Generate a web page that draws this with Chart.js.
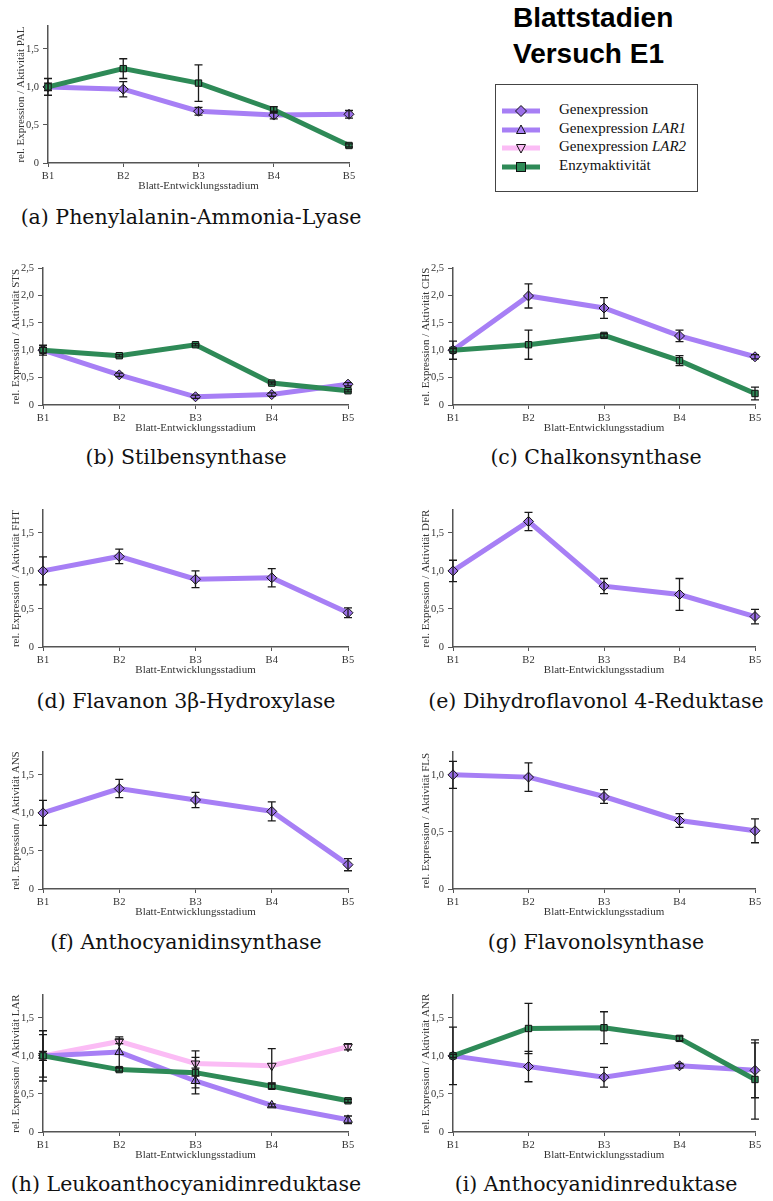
<!DOCTYPE html>
<html lang="de">
<head>
<meta charset="utf-8">
<script src="https://cdn.jsdelivr.net/npm/chart.js@4.4.1/dist/chart.umd.min.js"></script>
<style>
  body { margin: 0; background: #fff; width: 773px; height: 1201px; position: relative; overflow: hidden; }
  canvas { position: absolute; }
  .cap { position: absolute; width: 400px; text-align: center; font-family: "DejaVu Serif", serif; font-size: 20.5px; line-height: 24px; color: #111; white-space: nowrap; }
  #title { position: absolute; left: 513px; top: 0; font-family: "Liberation Sans", sans-serif; font-weight: bold; font-size: 28px; line-height: 36px; color: #000; }
  #legend { position: absolute; left: 495px; top: 84px; width: 201px; height: 106px; border: 1.5px solid #444; }
  #legend .row { position: absolute; left: 6px; height: 18px; display: flex; align-items: center; }
  #legend span { position: absolute; left: 57px; font-family: "Liberation Serif", serif; font-size: 15px; color: #111; white-space: nowrap; top: -1px; }
  #legend i { font-style: italic; }
</style>
</head>
<body>
<div id="title">Blattstadien<br>Versuch E1</div>
<div id="legend">
  <div class="row" style="top:17px"><svg width="40" height="18"><line x1="0" y1="9" x2="38" y2="9" stroke="#a77ff5" stroke-width="5"/><polygon points="19,3.5 24.5,9 19,14.5 13.5,9" fill="#9b6fe8" stroke="#111" stroke-width="1"/></svg><span>Genexpression</span></div>
  <div class="row" style="top:36px"><svg width="40" height="18"><line x1="0" y1="9" x2="38" y2="9" stroke="#a77ff5" stroke-width="5"/><polygon points="19,4 23.5,12.5 14.5,12.5" fill="#a77ff5" stroke="#111" stroke-width="1"/></svg><span>Genexpression <i>LAR1</i></span></div>
  <div class="row" style="top:54px"><svg width="40" height="18"><line x1="0" y1="9" x2="38" y2="9" stroke="#fbbcf5" stroke-width="5"/><polygon points="14.5,5.5 23.5,5.5 19,14" fill="#fbbcf5" stroke="#111" stroke-width="1"/></svg><span>Genexpression <i>LAR2</i></span></div>
  <div class="row" style="top:73px"><svg width="40" height="18"><line x1="0" y1="9" x2="38" y2="9" stroke="#2e8a57" stroke-width="5"/><rect x="14.5" y="4.5" width="9" height="9" fill="#2e8b57" stroke="#111" stroke-width="1"/></svg><span>Enzymaktivität</span></div>
</div>

<canvas id="pal" width="368" height="181" style="left:5px;top:14px"></canvas>
<canvas id="sts" width="372" height="181" style="left:0;top:256px"></canvas>
<canvas id="chs" width="363" height="181" style="left:410px;top:256px"></canvas>
<canvas id="fht" width="372" height="181" style="left:0;top:498px"></canvas>
<canvas id="dfr" width="363" height="181" style="left:410px;top:498px"></canvas>
<canvas id="ans" width="372" height="181" style="left:0;top:740px"></canvas>
<canvas id="fls" width="363" height="181" style="left:410px;top:740px"></canvas>
<canvas id="lar" width="372" height="181" style="left:0;top:983px"></canvas>
<canvas id="anr" width="363" height="181" style="left:410px;top:983px"></canvas>

<div class="cap" style="left:-9px;top:205px">(a) Phenylalanin-Ammonia-Lyase</div>
<div class="cap" style="left:-14px;top:445px">(b) Stilbensynthase</div>
<div class="cap" style="left:396px;top:445px">(c) Chalkonsynthase</div>
<div class="cap" style="left:-14px;top:689px">(d) Flavanon 3β-Hydroxylase</div>
<div class="cap" style="left:396px;top:689px">(e) Dihydroflavonol 4-Reduktase</div>
<div class="cap" style="left:-14px;top:930px">(f) Anthocyanidinsynthase</div>
<div class="cap" style="left:396px;top:930px">(g) Flavonolsynthase</div>
<div class="cap" style="left:-14px;top:1172px">(h) Leukoanthocyanidinreduktase</div>
<div class="cap" style="left:396px;top:1172px">(i) Anthocyanidinreduktase</div>

<script>
const stages = ["B1", "B2", "B3", "B4", "B5"];

const ticksLow = [0, 0.5, 1.0, 1.5];
const ticksHigh = [0, 0.5, 1.0, 1.5, 2.0, 2.5];
const ticksFls = [0, 0.5, 1.0];

// PAL
const palGen = [1.00, 0.97, 0.68, 0.63, 0.64];
const palGenErr = [0.11, 0.10, 0.05, 0.05, 0.05];
const palEnz = [1.00, 1.24, 1.05, 0.70, 0.23];
const palEnzErr = [0.05, 0.13, 0.24, 0.04, 0.02];
// STS
const stsGen = [1.00, 0.55, 0.15, 0.19, 0.38];
const stsGenErr = [0.09, 0.03, 0.03, 0.03, 0.03];
const stsEnz = [1.00, 0.90, 1.10, 0.40, 0.26];
const stsEnzErr = [0.05, 0.02, 0.02, 0.02, 0.02];
// CHS
const chsGen = [1.00, 1.99, 1.77, 1.26, 0.88];
const chsGenErr = [0.03, 0.22, 0.19, 0.105, 0.04];
const chsEnz = [1.00, 1.10, 1.27, 0.81, 0.21];
const chsEnzErr = [0.165, 0.265, 0.03, 0.09, 0.115];
// FHT
const fhtGen = [1.00, 1.19, 0.89, 0.91, 0.45];
const fhtGenErr = [0.185, 0.095, 0.11, 0.12, 0.065];
// DFR
const dfrGen = [1.00, 1.65, 0.80, 0.69, 0.40];
const dfrGenErr = [0.14, 0.12, 0.10, 0.21, 0.095];
// ANS
const ansGen = [1.00, 1.32, 1.17, 1.02, 0.32];
const ansGenErr = [0.165, 0.12, 0.10, 0.125, 0.08];
// FLS
const flsGen = [1.00, 0.98, 0.81, 0.60, 0.51];
const flsGenErr = [0.118, 0.125, 0.06, 0.061, 0.105];
// LAR
const lar1Gen = [1.00, 1.05, 0.67, 0.35, 0.16];
const lar1GenErr = [0.33, 0.20, 0.17, 0.02, 0.05];
const lar2Gen = [1.00, 1.19, 0.90, 0.87, 1.12];
const lar2GenErr = [0.28, 0.03, 0.165, 0.225, 0.04];
const larEnz = [1.00, 0.82, 0.78, 0.60, 0.41];
const larEnzErr = [0.06, 0.02, 0.20, 0.03, 0.02];
// ANR
const anrGen = [1.00, 0.86, 0.72, 0.87, 0.81];
const anrGenErr = [0.378, 0.20, 0.13, 0.03, 0.36];
const anrEnz = [1.00, 1.36, 1.37, 1.23, 0.69];
const anrEnzErr = [0.02, 0.33, 0.21, 0.03, 0.52];

const PURPLE = "#a77ff5";
const PURPLE_FILL = "#9b6fe8";
const PINK = "#fbbcf5";
const GREEN = "#2e8a57";
const GREEN_FILL = "#2e8b57";

// vertical error bars with caps, drawn via the chart scales
const errorBars = {
  id: "errorBars",
  afterDatasetsDraw(chart) {
    const { ctx, scales: { x, y } } = chart;
    ctx.save();
    ctx.strokeStyle = "#1a1a1a";
    ctx.lineWidth = 1.3;
    chart.data.datasets.forEach((ds) => {
      if (!ds.errors) return;
      ds.data.forEach((v, i) => {
        const e = ds.errors[i];
        const px = x.getPixelForValue(i);
        const top = y.getPixelForValue(v + e);
        const bot = y.getPixelForValue(v - e);
        ctx.beginPath();
        ctx.moveTo(px, top);
        ctx.lineTo(px, bot);
        ctx.moveTo(px - 4, top);
        ctx.lineTo(px + 4, top);
        ctx.moveTo(px - 4, bot);
        ctx.lineTo(px + 4, bot);
        ctx.stroke();
      });
    });
    ctx.restore();
  },
};

function series(kind, data, errors) {
  const styles = {
    gen: { color: PURPLE, fill: PURPLE_FILL, point: "rectRot", r: 5, order: 1 },
    lar1: { color: PURPLE, fill: PURPLE, point: "triangle", r: 5, order: 1 },
    lar2: { color: PINK, fill: PINK, point: "triangle", r: 5, order: 2, rot: 180 },
    enz: { color: GREEN, fill: GREEN_FILL, point: "rect", r: 4.5, order: 0 },
  };
  const s = styles[kind];
  return {
    data: data,
    errors: errors,
    borderColor: s.color,
    borderWidth: 5,
    tension: 0,
    fill: false,
    pointStyle: s.point,
    pointRotation: s.rot || 0,
    pointRadius: s.r,
    pointBackgroundColor: s.fill,
    pointBorderColor: "#111",
    pointBorderWidth: 1,
    order: s.order,
    clip: false,
  };
}

const fmt = (v) => (v === 0 ? "0" : v.toFixed(1).replace(".", ","));

function makeChart(id, datasets, yMax, yTicks, yLabel) {
  const rightCol = ["chs", "dfr", "fls", "anr"].includes(id);
  new Chart(document.getElementById(id), {
    type: "line",
    data: { labels: stages, datasets: datasets },
    plugins: [errorBars],
    options: {
      responsive: false,
      animation: false,
      devicePixelRatio: 1,
      layout: { padding: { top: 12, right: rightCol ? 18 : 24, bottom: 0, left: 0 } },
      plugins: { legend: { display: false }, tooltip: { enabled: false } },
      scales: {
        x: {
          type: "category",
          offset: false,
          grid: { drawOnChartArea: false, drawTicks: true, tickLength: 4, color: "#555" },
          border: { color: "#555", width: 1.5 },
          ticks: { color: "#333", font: { family: "Liberation Serif", size: 10.5 }, padding: 3, maxRotation: 0 },
          title: { display: true, text: "Blatt-Entwicklungsstadium", color: "#333", font: { family: "Liberation Serif", size: 11 }, padding: { top: 0, bottom: 2 } },
          afterFit: (scale) => { scale.height = 32; },
        },
        y: {
          min: 0,
          max: yMax,
          grid: { drawOnChartArea: false, drawTicks: true, tickLength: 5, color: "#555" },
          border: { color: "#555", width: 1.5 },
          ticks: { color: "#333", font: { family: "Liberation Serif", size: 10.5 }, padding: 4, callback: fmt },
          afterBuildTicks: (axis) => { axis.ticks = yTicks.map((v) => ({ value: v })); },
          title: { display: true, text: yLabel, color: "#333", font: { family: "Liberation Serif", size: 11 }, padding: { top: 10, bottom: 0 } },
          afterFit: (scale) => { scale.width = 43; },
        },
      },
    },
  });
}

makeChart("pal", [series("enz", palEnz, palEnzErr), series("gen", palGen, palGenErr)], 1.8, ticksLow, "rel. Expression / Aktivität PAL");
makeChart("sts", [series("enz", stsEnz, stsEnzErr), series("gen", stsGen, stsGenErr)], 2.5, ticksHigh, "rel. Expression / Aktivität STS");
makeChart("chs", [series("enz", chsEnz, chsEnzErr), series("gen", chsGen, chsGenErr)], 2.5, ticksHigh, "rel. Expression / Aktivität CHS");
makeChart("fht", [series("gen", fhtGen, fhtGenErr)], 1.8, ticksLow, "rel. Expression / Aktivität FHT");
makeChart("dfr", [series("gen", dfrGen, dfrGenErr)], 1.8, ticksLow, "rel. Expression / Aktivität DFR");
makeChart("ans", [series("gen", ansGen, ansGenErr)], 1.8, ticksLow, "rel. Expression / Aktivität ANS");
makeChart("fls", [series("gen", flsGen, flsGenErr)], 1.2, ticksFls, "rel. Expression / Aktivität FLS");
makeChart("lar", [series("enz", larEnz, larEnzErr), series("lar1", lar1Gen, lar1GenErr), series("lar2", lar2Gen, lar2GenErr)], 1.8, ticksLow, "rel. Expression / Aktivität LAR");
makeChart("anr", [series("enz", anrEnz, anrEnzErr), series("gen", anrGen, anrGenErr)], 1.8, ticksLow, "rel. Expression / Aktivität ANR");
</script>
</body>
</html>
